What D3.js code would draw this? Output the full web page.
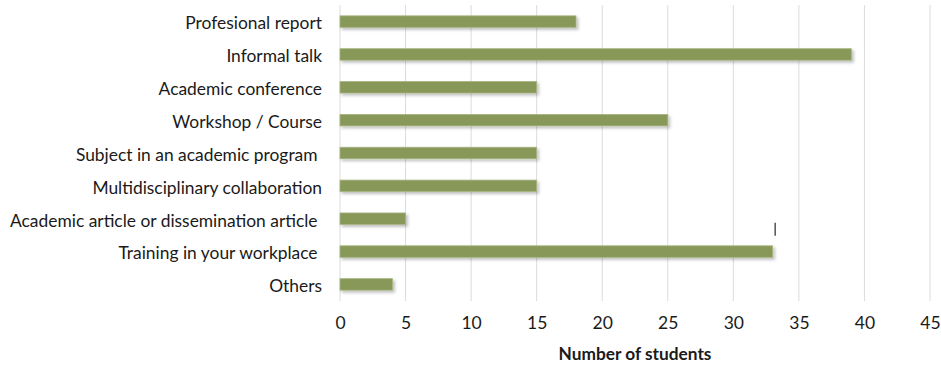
<!DOCTYPE html>
<html>
<head>
<meta charset="utf-8">
<script src="https://cdn.jsdelivr.net/npm/d3@7"></script>
<style>
  html, body { margin: 0; padding: 0; background: #fff; }
  svg { display: block; }
  text { font-family: Lato, "Open Sans", sans-serif; fill: #1a1a1a; }
</style>
</head>
<body>
<svg id="chart" width="941" height="366"></svg>
<script>
// Where students learned about the topic
const categories = [
  "Profesional report",
  "Informal talk",
  "Academic conference",
  "Workshop / Course",
  "Subject in an academic program ",
  "Multidisciplinary collaboration",
  "Academic article or dissemination article ",
  "Training in your workplace ",
  "Others"
];
const students = [18, 39, 15, 25, 15, 15, 5, 33, 4];
const xTicks = [0, 5, 10, 15, 20, 25, 30, 35, 40, 45];
const xTitle = "Number of students";

const svg = d3.select("#chart");
const margin = { left: 340, right: 11, top: 5, bottom: 65 };
const W = 941, H = 366;

const x = d3.scaleLinear().domain([0, 45]).range([margin.left, W - margin.right]);
const y = d3.scaleBand().domain(categories).range([margin.top, H - margin.bottom]).paddingInner(0.65).paddingOuter(0.33);

// soft drop shadow under bars
const defs = svg.append("defs");
const f = defs.append("filter").attr("id", "shadow").attr("x", "-5%").attr("y", "-50%").attr("width", "115%").attr("height", "250%");
f.append("feDropShadow").attr("dx", 2).attr("dy", 2).attr("stdDeviation", 1.6).attr("flood-color", "#000").attr("flood-opacity", 0.25);

// vertical gridlines
svg.append("g")
  .selectAll("line")
  .data(xTicks)
  .join("line")
  .attr("x1", d => x(d)).attr("x2", d => x(d))
  .attr("y1", margin.top).attr("y2", H - margin.bottom)
  .attr("stroke", "#dcdcdc").attr("stroke-width", 1);

// bars, with a pale edge
svg.append("g")
  .selectAll("rect")
  .data(categories.map((c, i) => ({ c, v: students[i] })))
  .join("rect")
  .attr("x", x(0))
  .attr("y", d => y(d.c))
  .attr("width", d => x(d.v) - x(0))
  .attr("height", y.bandwidth())
  .attr("fill", "#879858")
  .attr("stroke", "#a8b684")
  .attr("stroke-width", 0.8)
  .attr("filter", "url(#shadow)");

// small marker above the "Training in your workplace" bar
const tIdx = categories.indexOf("Training in your workplace ");
svg.append("line")
  .attr("x1", x(students[tIdx]) + 2.5).attr("x2", x(students[tIdx]) + 2.5)
  .attr("y1", y(categories[tIdx]) - 23).attr("y2", y(categories[tIdx]) - 10)
  .attr("stroke", "#444").attr("stroke-width", 1.4);

// x axis tick labels
const xAxis = d3.axisBottom(x).tickValues(xTicks).tickSize(0).tickPadding(0);
const gx = svg.append("g").attr("transform", `translate(0,${H - margin.bottom + 16})`).call(xAxis);
gx.select(".domain").remove();
gx.selectAll("text").style("font-size", "17.5px").attr("fill", "#1a1a1a").attr("dy", "0.71em");

// y axis category labels
const yAxis = d3.axisLeft(y).tickSize(0).tickPadding(18);
const gy = svg.append("g").attr("transform", `translate(${margin.left},0)`).call(yAxis);
gy.select(".domain").remove();
gy.selectAll("text").style("font-size", "17.4px").style("white-space", "pre").attr("fill", "#1a1a1a").attr("dy", "0.45em");

// axis title
svg.append("text")
  .attr("x", (x(0) + x(45)) / 2).attr("y", 360)
  .attr("text-anchor", "middle")
  .style("font-size", "17.3px").style("font-weight", "bold")
  .text(xTitle);
</script>
</body>
</html>
